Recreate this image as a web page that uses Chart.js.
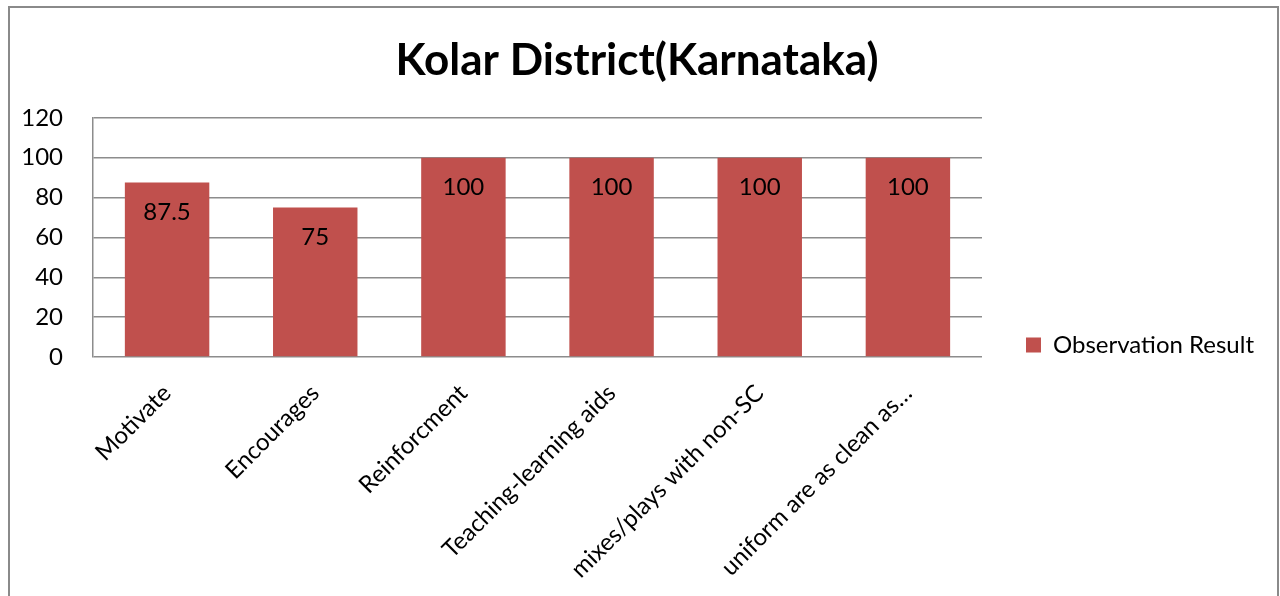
<!DOCTYPE html>
<html>
<head>
<meta charset="utf-8">
<script src="https://cdn.jsdelivr.net/npm/chart.js@4.4.1/dist/chart.umd.min.js"></script>
<style>
  html, body { margin: 0; padding: 0; background: #fff; overflow: hidden; }
  #frame {
    position: absolute; left: 8px; top: 6px;
    width: 1267px; height: 600px;
    border: 2px solid #8a8a8a; border-bottom: none;
    background: #fff;
  }
  #chartBox { position: relative; width: 1267px; height: 590px; }
</style>
</head>
<body>
<div id="frame">
  <div id="chartBox"><canvas id="chartKolar"></canvas></div>
</div>
<script>
  // data
  const categories = ['Motivate', 'Encourages', 'Reinforcment', 'Teaching-learning aids', 'mixes/plays with non-SC', 'uniform are as clean as…'];
  const observationResult = [87.5, 75, 100, 100, 100, 100];
  const yTicks = [0, 20, 40, 60, 80, 100, 120];

  const FONT = "Lato, 'Open Sans', sans-serif";
  const BAR_RED = '#C0504D';
  const GRID = '#8c8c8c';

  // value labels drawn inside the top of each bar
  const barValueLabels = {
    id: 'barValueLabels',
    afterDatasetsDraw(chart) {
      const ctx = chart.ctx;
      const meta = chart.getDatasetMeta(0);
      ctx.save();
      ctx.font = '24px ' + FONT;
      ctx.fillStyle = '#000';
      ctx.textAlign = 'center';
      ctx.textBaseline = 'middle';
      meta.data.forEach((bar, i) => {
        ctx.fillText(String(observationResult[i]), bar.x, bar.y + 30);
      });
      ctx.restore();
    }
  };

  new Chart(document.getElementById('chartKolar').getContext('2d'), {
    type: 'bar',
    data: {
      labels: categories,
      datasets: [{
        label: 'Observation Result',
        data: observationResult,
        backgroundColor: BAR_RED,
        borderWidth: 0,
        barPercentage: 0.57,
        categoryPercentage: 1
      }]
    },
    options: {
      responsive: true,
      maintainAspectRatio: false,
      animation: false,
      layout: { padding: { left: 0, right: 13, top: 0, bottom: 0 } },
      plugins: {
        title: {
          display: true,
          text: 'Kolar District(Karnataka)',
          color: '#000',
          font: { family: FONT, size: 44, weight: 'bold', lineHeight: 1.2 },
          padding: { top: 26, bottom: 31 }
        },
        legend: {
          position: 'right',
          align: 'end',
          fullSize: false,
          maxWidth: 320,
          labels: {
            color: '#000',
            font: { family: FONT, size: 24 },
            boxWidth: 15,
            boxHeight: 15,
            padding: 0
          }
        },
        tooltip: { enabled: false }
      },
      scales: {
        y: {
          min: 0,
          max: 120,
          afterBuildTicks: s => { s.ticks = yTicks.map(v => ({ value: v })); },
          afterFit: s => { s.width = 83; },
          ticks: { color: '#000', font: { family: FONT, size: 24 }, padding: 30 },
          grid: { color: GRID, lineWidth: 1.5, drawTicks: false },
          border: { display: true, color: GRID, width: 1.5 }
        },
        // empty spacer between plot and legend
        gap: {
          position: 'right',
          afterFit: s => { s.width = 44; },
          ticks: { display: false },
          grid: { display: false, drawTicks: false },
          border: { display: false }
        },
        x: {
          afterFit: s => { s.height = 241; },
          ticks: {
            color: '#000',
            font: { family: FONT, size: 24 },
            autoSkip: false,
            maxRotation: 45,
            minRotation: 45,
            padding: 22
          },
          grid: { display: false, drawTicks: false },
          border: { display: false }
        }
      }
    },
    plugins: [barValueLabels]
  });
</script>
</body>
</html>
